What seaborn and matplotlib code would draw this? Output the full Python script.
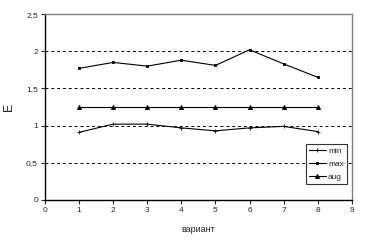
import pandas as pd
import matplotlib
matplotlib.use("Agg")
import matplotlib.pyplot as plt
import seaborn as sns

# данные
variant = [1, 2, 3, 4, 5, 6, 7, 8]
e_min = [0.91, 1.02, 1.02, 0.97, 0.93, 0.97, 0.99, 0.92]
e_max = [1.77, 1.85, 1.80, 1.88, 1.81, 2.02, 1.83, 1.65]
e_aug = [1.25, 1.25, 1.25, 1.25, 1.25, 1.25, 1.25, 1.25]
series = ["min", "max", "aug"]
markers = ["+", "s", "^"]
msizes = [2.5, 1.6, 3]

sns.set_style("white")
plt.rcParams['font.family'] = ['Liberation Sans', 'DejaVu Sans']

fig = plt.figure(figsize=(3.65, 2.43), dpi=100)
ax = fig.add_axes([0.123, 0.177, 0.841, 0.765])

for name, vals, mk, ms in zip(series, [e_min, e_max, e_aug], markers, msizes):
    sns.lineplot(x=variant, y=vals, label=name, color="black", marker=mk,
                 markersize=ms, markeredgecolor="black", markeredgewidth=0.6,
                 linewidth=0.8, ax=ax)

ax.set_xlim(0, 9)
ax.set_ylim(0, 2.5)
ax.set_xticks(range(10))
ax.set_yticks([0, 0.5, 1, 1.5, 2, 2.5])
ax.set_yticklabels(["0", "0,5", "1", "1,5", "2", "2,5"])
for y in [0.5, 1, 1.5, 2]:
    ax.axhline(y, color="black", linestyle=(0, (3, 3)), linewidth=0.7, zorder=0)

ax.tick_params(labelsize=6, length=3, width=0.8, direction="out", pad=2,
               bottom=True, left=True)
ax.set_xlabel("вариант", fontsize=6.5, labelpad=8)
ax.set_ylabel("E", fontsize=9, labelpad=8)

for s in ["left", "bottom"]:
    ax.spines[s].set_color("black")
    ax.spines[s].set_linewidth(1)
for s in ["top", "right"]:
    ax.spines[s].set_color("#808080")
    ax.spines[s].set_linewidth(1)

leg = ax.legend(loc="lower right", bbox_to_anchor=(0.985, 0.085), fontsize=6,
                frameon=True, fancybox=False, edgecolor="black",
                handlelength=2.0, handletextpad=0.3, borderpad=0.4,
                labelspacing=0.6, borderaxespad=0)
leg.get_frame().set_linewidth(0.8)

fig.savefig("out.png", dpi=100)
